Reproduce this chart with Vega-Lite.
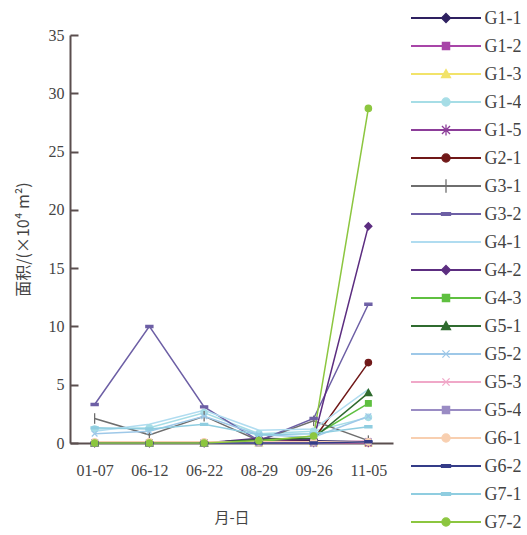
{
  "$schema": "https://vega.github.io/schema/vega-lite/v6.json",
  "padding": {"left": 15, "top": 9, "right": 0, "bottom": 0},
  "background": "white",
  "config": {"view": {"stroke": null}, "font": "Liberation Serif", "concat": {"spacing": 17}},
  "datasets": {
    "area": [
      {"series": "G1-1", "date": "01-07", "value": 0}, {"series": "G1-1", "date": "06-12", "value": 0}, {"series": "G1-1", "date": "06-22", "value": 0}, {"series": "G1-1", "date": "08-29", "value": 0.3}, {"series": "G1-1", "date": "09-26", "value": 0.2}, {"series": "G1-1", "date": "11-05", "value": 0.1},
      {"series": "G1-2", "date": "01-07", "value": 0}, {"series": "G1-2", "date": "06-12", "value": 0}, {"series": "G1-2", "date": "06-22", "value": 0}, {"series": "G1-2", "date": "08-29", "value": 0.2}, {"series": "G1-2", "date": "09-26", "value": 0.1}, {"series": "G1-2", "date": "11-05", "value": 0},
      {"series": "G1-3", "date": "01-07", "value": 0}, {"series": "G1-3", "date": "06-12", "value": 0}, {"series": "G1-3", "date": "06-22", "value": 0}, {"series": "G1-3", "date": "08-29", "value": 0}, {"series": "G1-3", "date": "09-26", "value": 0}, {"series": "G1-3", "date": "11-05", "value": 0},
      {"series": "G1-4", "date": "01-07", "value": 1.2}, {"series": "G1-4", "date": "06-12", "value": 1.3}, {"series": "G1-4", "date": "06-22", "value": 2.6}, {"series": "G1-4", "date": "08-29", "value": 0.8}, {"series": "G1-4", "date": "09-26", "value": 1.0}, {"series": "G1-4", "date": "11-05", "value": 2.2},
      {"series": "G1-5", "date": "01-07", "value": 0}, {"series": "G1-5", "date": "06-12", "value": 0}, {"series": "G1-5", "date": "06-22", "value": 0}, {"series": "G1-5", "date": "08-29", "value": 0.1}, {"series": "G1-5", "date": "09-26", "value": 0}, {"series": "G1-5", "date": "11-05", "value": 0},
      {"series": "G2-1", "date": "01-07", "value": 0}, {"series": "G2-1", "date": "06-12", "value": 0}, {"series": "G2-1", "date": "06-22", "value": 0}, {"series": "G2-1", "date": "08-29", "value": 0.3}, {"series": "G2-1", "date": "09-26", "value": 0.3}, {"series": "G2-1", "date": "11-05", "value": 6.9},
      {"series": "G3-1", "date": "01-07", "value": 2.1}, {"series": "G3-1", "date": "06-12", "value": 0.7}, {"series": "G3-1", "date": "06-22", "value": 2.3}, {"series": "G3-1", "date": "08-29", "value": 0.2}, {"series": "G3-1", "date": "09-26", "value": 1.9}, {"series": "G3-1", "date": "11-05", "value": 0.2},
      {"series": "G3-2", "date": "01-07", "value": 3.3}, {"series": "G3-2", "date": "06-12", "value": 10.0}, {"series": "G3-2", "date": "06-22", "value": 3.1}, {"series": "G3-2", "date": "08-29", "value": 0.2}, {"series": "G3-2", "date": "09-26", "value": 2.1}, {"series": "G3-2", "date": "11-05", "value": 11.9},
      {"series": "G4-1", "date": "01-07", "value": 1.0}, {"series": "G4-1", "date": "06-12", "value": 1.6}, {"series": "G4-1", "date": "06-22", "value": 2.8}, {"series": "G4-1", "date": "08-29", "value": 1.1}, {"series": "G4-1", "date": "09-26", "value": 1.2}, {"series": "G4-1", "date": "11-05", "value": 4.6},
      {"series": "G4-2", "date": "01-07", "value": 0}, {"series": "G4-2", "date": "06-12", "value": 0}, {"series": "G4-2", "date": "06-22", "value": 0}, {"series": "G4-2", "date": "08-29", "value": 0.4}, {"series": "G4-2", "date": "09-26", "value": 0.3}, {"series": "G4-2", "date": "11-05", "value": 18.6},
      {"series": "G4-3", "date": "01-07", "value": 0}, {"series": "G4-3", "date": "06-12", "value": 0}, {"series": "G4-3", "date": "06-22", "value": 0}, {"series": "G4-3", "date": "08-29", "value": 0.1}, {"series": "G4-3", "date": "09-26", "value": 0.6}, {"series": "G4-3", "date": "11-05", "value": 3.4},
      {"series": "G5-1", "date": "01-07", "value": 0}, {"series": "G5-1", "date": "06-12", "value": 0}, {"series": "G5-1", "date": "06-22", "value": 0}, {"series": "G5-1", "date": "08-29", "value": 0.3}, {"series": "G5-1", "date": "09-26", "value": 0.4}, {"series": "G5-1", "date": "11-05", "value": 4.3},
      {"series": "G5-2", "date": "01-07", "value": 0.8}, {"series": "G5-2", "date": "06-12", "value": 1.0}, {"series": "G5-2", "date": "06-22", "value": 2.3}, {"series": "G5-2", "date": "08-29", "value": 0.7}, {"series": "G5-2", "date": "09-26", "value": 0.5}, {"series": "G5-2", "date": "11-05", "value": 2.3},
      {"series": "G5-3", "date": "01-07", "value": 0}, {"series": "G5-3", "date": "06-12", "value": 0}, {"series": "G5-3", "date": "06-22", "value": 0}, {"series": "G5-3", "date": "08-29", "value": 0}, {"series": "G5-3", "date": "09-26", "value": 0}, {"series": "G5-3", "date": "11-05", "value": 0.2},
      {"series": "G5-4", "date": "01-07", "value": 0}, {"series": "G5-4", "date": "06-12", "value": 0}, {"series": "G5-4", "date": "06-22", "value": 0}, {"series": "G5-4", "date": "08-29", "value": 0}, {"series": "G5-4", "date": "09-26", "value": 0}, {"series": "G5-4", "date": "11-05", "value": 0.1},
      {"series": "G6-1", "date": "01-07", "value": 0.1}, {"series": "G6-1", "date": "06-12", "value": 0.1}, {"series": "G6-1", "date": "06-22", "value": 0.1}, {"series": "G6-1", "date": "08-29", "value": 0.1}, {"series": "G6-1", "date": "09-26", "value": 0.1}, {"series": "G6-1", "date": "11-05", "value": 0.1},
      {"series": "G6-2", "date": "01-07", "value": 0}, {"series": "G6-2", "date": "06-12", "value": 0}, {"series": "G6-2", "date": "06-22", "value": 0}, {"series": "G6-2", "date": "08-29", "value": 0}, {"series": "G6-2", "date": "09-26", "value": 0}, {"series": "G6-2", "date": "11-05", "value": 0.1},
      {"series": "G7-1", "date": "01-07", "value": 1.3}, {"series": "G7-1", "date": "06-12", "value": 1.2}, {"series": "G7-1", "date": "06-22", "value": 1.6}, {"series": "G7-1", "date": "08-29", "value": 0.7}, {"series": "G7-1", "date": "09-26", "value": 0.8}, {"series": "G7-1", "date": "11-05", "value": 1.4},
      {"series": "G7-2", "date": "01-07", "value": 0}, {"series": "G7-2", "date": "06-12", "value": 0}, {"series": "G7-2", "date": "06-22", "value": 0}, {"series": "G7-2", "date": "08-29", "value": 0.2}, {"series": "G7-2", "date": "09-26", "value": 0.6}, {"series": "G7-2", "date": "11-05", "value": 28.7}
    ],
    "legend": [
      {"series": "G1-1"}, {"series": "G1-2"}, {"series": "G1-3"}, {"series": "G1-4"}, {"series": "G1-5"},
      {"series": "G2-1"}, {"series": "G3-1"}, {"series": "G3-2"}, {"series": "G4-1"}, {"series": "G4-2"},
      {"series": "G4-3"}, {"series": "G5-1"}, {"series": "G5-2"}, {"series": "G5-3"}, {"series": "G5-4"},
      {"series": "G6-1"}, {"series": "G6-2"}, {"series": "G7-1"}, {"series": "G7-2"}
    ]
  },
  "hconcat": [
    {
      "width": 323,
      "height": 408,
      "data": {"name": "area"},
      "encoding": {
        "x": {
          "field": "date", "type": "ordinal", "sort": null,
          "scale": {"type": "point", "padding": 0.45},
          "axis": {"title": "月-日", "labelAngle": 0, "ticks": false, "domainColor": "#5a4e4e", "domainWidth": 2,
                   "labelFont": "Liberation Serif", "labelFontSize": 16, "labelColor": "#444", "labelPadding": 19,
                   "titleFont": "Noto Sans CJK SC", "titleFontSize": 15, "titleFontWeight": "normal", "titleColor": "#444", "titlePadding": 32}
        },
        "y": {
          "field": "value", "type": "quantitative",
          "scale": {"domain": [0, 35], "nice": false},
          "axis": {"title": "面积/(×10⁴ m²)", "values": [0, 5, 10, 15, 20, 25, 30, 35], "grid": false,
                   "domainColor": "#5a4e4e", "domainWidth": 2, "tickColor": "#5a4e4e", "tickWidth": 2, "tickSize": -8,
                   "labelFont": "Liberation Serif", "labelFontSize": 16, "labelColor": "#444", "labelPadding": 14,
                   "titleFont": "Noto Sans CJK SC", "titleFontSize": 16, "titleFontWeight": "normal", "titleColor": "#444", "titlePadding": 17}
        },
        "color": {
          "field": "series", "type": "nominal", "legend": null,
          "scale": {
            "domain": ["G1-1","G1-2","G1-3","G1-4","G1-5","G2-1","G3-1","G3-2","G4-1","G4-2","G4-3","G5-1","G5-2","G5-3","G5-4","G6-1","G6-2","G7-1","G7-2"],
            "range": ["#2e2060","#a845a8","#f2e36a","#a6dde6","#8c3d99","#701818","#6e6e6e","#6d5fa5","#b0dcf0","#5c2d80","#5fc040","#2f6b2f","#9ec8e8","#f0a8c8","#9a8cc4","#f8cfb0","#343c88","#8fcde0","#8cc63f"]
          }
        }
      },
      "layer": [
        {
          "mark": {"type": "line"},
          "encoding": {
            "strokeWidth": {
              "field": "series", "type": "nominal", "legend": null,
              "scale": {
                "domain": ["G1-1","G1-2","G1-3","G1-4","G1-5","G2-1","G3-1","G3-2","G4-1","G4-2","G4-3","G5-1","G5-2","G5-3","G5-4","G6-1","G6-2","G7-1","G7-2"],
                "range": [1.5,1.5,2.5,3,1.5,1.8,1.5,1.5,4,1.5,1.5,1.5,3,1.5,1.5,2.5,1.5,3,1.5]
              }
            }
          }
        },
        {
          "mark": {"type": "point", "filled": true, "size": 50, "strokeWidth": 1.3, "opacity": 1},
          "encoding": {
            "shape": {
              "field": "series", "type": "nominal", "legend": null,
              "scale": {
                "domain": ["G1-1","G1-2","G1-3","G1-4","G1-5","G2-1","G3-1","G3-2","G4-1","G4-2","G4-3","G5-1","G5-2","G5-3","G5-4","G6-1","G6-2","G7-1","G7-2"],
                "range": [
                  "M0,-1L1,0L0,1L-1,0Z",
                  "M-0.8,-0.8L0.8,-0.8L0.8,0.8L-0.8,0.8Z",
                  "M0,-1L1,0.8L-1,0.8Z",
                  "M-0.9,0A0.9,0.9,0,1,1,0.9,0A0.9,0.9,0,1,1,-0.9,0Z",
                  "M-0.9,-0.9L0.9,0.9M0.9,-0.9L-0.9,0.9M0,-1.2L0,1.2",
                  "M-0.9,0A0.9,0.9,0,1,1,0.9,0A0.9,0.9,0,1,1,-0.9,0Z",
                  "M0,-1.5L0,1.5",
                  "M-1,-0.3L1,-0.3L1,0.3L-1,0.3Z",
                  "M0,0L0,0",
                  "M0,-1L1,0L0,1L-1,0Z",
                  "M-0.8,-0.8L0.8,-0.8L0.8,0.8L-0.8,0.8Z",
                  "M0,-1L1,0.8L-1,0.8Z",
                  "M-0.8,-0.8L0.8,0.8M0.8,-0.8L-0.8,0.8",
                  "M-0.8,-0.8L0.8,0.8M0.8,-0.8L-0.8,0.8",
                  "M-0.8,-0.8L0.8,-0.8L0.8,0.8L-0.8,0.8Z",
                  "M-0.9,0A0.9,0.9,0,1,1,0.9,0A0.9,0.9,0,1,1,-0.9,0Z",
                  "M-1,-0.3L1,-0.3L1,0.3L-1,0.3Z",
                  "M-1,-0.3L1,-0.3L1,0.3L-1,0.3Z",
                  "M-0.9,0A0.9,0.9,0,1,1,0.9,0A0.9,0.9,0,1,1,-0.9,0Z"
                ]
              }
            },
            "stroke": {
              "field": "series", "type": "nominal", "legend": null,
              "scale": {
                "domain": ["G1-1","G1-2","G1-3","G1-4","G1-5","G2-1","G3-1","G3-2","G4-1","G4-2","G4-3","G5-1","G5-2","G5-3","G5-4","G6-1","G6-2","G7-1","G7-2"],
                "range": ["#2e2060","#a845a8","#f2e36a","#a6dde6","#8c3d99","#701818","#6e6e6e","#6d5fa5","#b0dcf0","#5c2d80","#5fc040","#2f6b2f","#9ec8e8","#f0a8c8","#9a8cc4","#f8cfb0","#343c88","#8fcde0","#8cc63f"]
              }
            }
          }
        }
      ]
    },
    {
      "width": 70,
      "height": 408,
      "data": {"name": "legend"},
      "encoding": {
        "y": {
          "field": "series", "type": "nominal", "sort": null,
          "scale": {"type": "point", "padding": 0.5, "range": [-31, 501]},
          "axis": {"orient": "right", "title": null, "domain": false, "ticks": false, "labelPadding": 3,
                   "labelFont": "Liberation Serif", "labelFontSize": 18, "labelColor": "#444", "labelLimit": 0}
        },
        "color": {
          "field": "series", "type": "nominal", "legend": null,
          "scale": {
            "domain": ["G1-1","G1-2","G1-3","G1-4","G1-5","G2-1","G3-1","G3-2","G4-1","G4-2","G4-3","G5-1","G5-2","G5-3","G5-4","G6-1","G6-2","G7-1","G7-2"],
            "range": ["#2e2060","#a845a8","#f2e36a","#a6dde6","#8c3d99","#701818","#6e6e6e","#6d5fa5","#b0dcf0","#5c2d80","#5fc040","#2f6b2f","#9ec8e8","#f0a8c8","#9a8cc4","#f8cfb0","#343c88","#8fcde0","#8cc63f"]
          }
        }
      },
      "layer": [
        {"mark": {"type": "rule", "strokeWidth": 2}},
        {
          "mark": {"type": "point", "filled": true, "size": 81, "strokeWidth": 1.3, "opacity": 1},
          "encoding": {
            "shape": {
              "field": "series", "type": "nominal", "legend": null,
              "scale": {
                "domain": ["G1-1","G1-2","G1-3","G1-4","G1-5","G2-1","G3-1","G3-2","G4-1","G4-2","G4-3","G5-1","G5-2","G5-3","G5-4","G6-1","G6-2","G7-1","G7-2"],
                "range": [
                  "M0,-1L1,0L0,1L-1,0Z",
                  "M-0.8,-0.8L0.8,-0.8L0.8,0.8L-0.8,0.8Z",
                  "M0,-1L1,0.8L-1,0.8Z",
                  "M-0.9,0A0.9,0.9,0,1,1,0.9,0A0.9,0.9,0,1,1,-0.9,0Z",
                  "M-0.9,-0.9L0.9,0.9M0.9,-0.9L-0.9,0.9M0,-1.2L0,1.2",
                  "M-0.9,0A0.9,0.9,0,1,1,0.9,0A0.9,0.9,0,1,1,-0.9,0Z",
                  "M0,-1.5L0,1.5",
                  "M-1,-0.3L1,-0.3L1,0.3L-1,0.3Z",
                  "M0,0L0,0",
                  "M0,-1L1,0L0,1L-1,0Z",
                  "M-0.8,-0.8L0.8,-0.8L0.8,0.8L-0.8,0.8Z",
                  "M0,-1L1,0.8L-1,0.8Z",
                  "M-0.8,-0.8L0.8,0.8M0.8,-0.8L-0.8,0.8",
                  "M-0.8,-0.8L0.8,0.8M0.8,-0.8L-0.8,0.8",
                  "M-0.8,-0.8L0.8,-0.8L0.8,0.8L-0.8,0.8Z",
                  "M-0.9,0A0.9,0.9,0,1,1,0.9,0A0.9,0.9,0,1,1,-0.9,0Z",
                  "M-1,-0.3L1,-0.3L1,0.3L-1,0.3Z",
                  "M-1,-0.3L1,-0.3L1,0.3L-1,0.3Z",
                  "M-0.9,0A0.9,0.9,0,1,1,0.9,0A0.9,0.9,0,1,1,-0.9,0Z"
                ]
              }
            },
            "stroke": {
              "field": "series", "type": "nominal", "legend": null,
              "scale": {
                "domain": ["G1-1","G1-2","G1-3","G1-4","G1-5","G2-1","G3-1","G3-2","G4-1","G4-2","G4-3","G5-1","G5-2","G5-3","G5-4","G6-1","G6-2","G7-1","G7-2"],
                "range": ["#2e2060","#a845a8","#f2e36a","#a6dde6","#8c3d99","#701818","#6e6e6e","#6d5fa5","#b0dcf0","#5c2d80","#5fc040","#2f6b2f","#9ec8e8","#f0a8c8","#9a8cc4","#f8cfb0","#343c88","#8fcde0","#8cc63f"]
              }
            }
          }
        }
      ]
    }
  ]
}
